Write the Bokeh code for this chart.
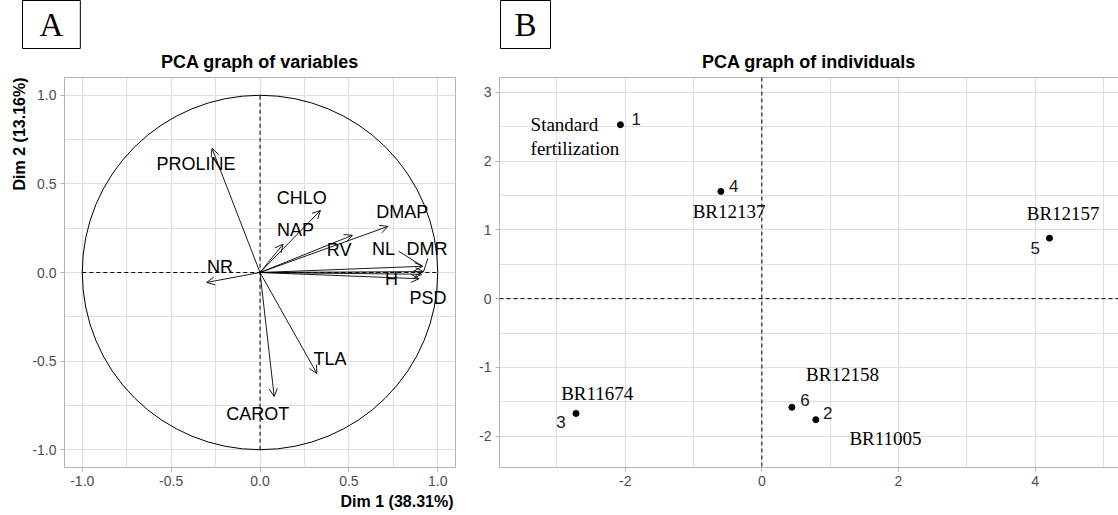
from bokeh.plotting import figure
from bokeh.models import (Range1d, FixedTicker, Span, Arrow, OpenHead, ColumnDataSource,
                          Title, LinearAxis, PrintfTickFormatter)
from bokeh.layouts import row
from bokeh.embed import file_html
from bokeh.resources import INLINE
from bokeh.core.properties import value

# ---------------- Panel A: PCA graph of variables ----------------
var_names = ["PROLINE", "CHLO", "NAP", "DMAP", "RV", "NL", "DMR", "H", "PSD", "NR", "TLA", "CAROT"]
var_dim1 = [-0.27, 0.34, 0.13, 0.72, 0.52, 0.915, 0.92, 0.91, 0.895, -0.30, 0.32, 0.08]
var_dim2 = [0.70, 0.35, 0.16, 0.26, 0.21, 0.035, 0.005, -0.01, -0.035, -0.056, -0.57, -0.70]
# repelled label positions (text centres)
var_label_dim1 = [-0.36, 0.235, 0.20, 0.80, 0.445, 0.695, 0.94, 0.74, 0.945, -0.225, 0.394, -0.013]
var_label_dim2 = [0.61, 0.42, 0.24, 0.34, 0.128, 0.13, 0.13, -0.034, -0.146, 0.03, -0.486, -0.80]
# label connector segments (ggrepel)
seg_vars = ["NL", "DMR"]
seg_from_dim1 = [0.78, 0.945]
seg_from_dim2 = [0.12, 0.08]

a_ticks = [-1.0, -0.5, 0.0, 0.5, 1.0]
a_minor = [-0.75, -0.25, 0.25, 0.75]

# ---------------- Panel B: PCA graph of individuals ----------------
ind_ids = ["1", "2", "3", "4", "5", "6"]
ind_dim1 = [-2.07, 0.79, -2.72, -0.60, 4.21, 0.44]
ind_dim2 = [2.53, -1.76, -1.67, 1.56, 0.88, -1.58]
ind_label_dim1 = [-1.84, 0.965, -2.94, -0.41, 4.0, 0.63]
ind_label_dim2 = [2.62, -1.66, -1.80, 1.645, 0.73, -1.48]
treat_names = ["Standard\nfertilization", "BR11005", "BR11674", "BR12137", "BR12157", "BR12158"]
treat_dim1 = [-3.385, 1.81, -2.41, -0.48, 4.41, 1.18]
treat_dim2 = [2.36, -2.03, -1.38, 1.27, 1.24, -1.106]
treat_align = ["left", "center", "center", "center", "center", "center"]

b_xticks = [-2, 0, 2, 4]
b_xminor = [-3, -1, 1, 3, 5]
b_yticks = [-2, -1, 0, 1, 2, 3]
b_yminor = [-1.5, -0.5, 0.5, 1.5, 2.5]

SANS = "Liberation Sans"
SERIF = "Liberation Serif"
GRID = "#dedede"
BORDER = "#b3b3b3"
TICKTXT = "#4d4d4d"


def style(p, xt, xm, yt, ym, fmt):
    p.background_fill_color = "white"
    p.border_fill_color = "white"
    p.xaxis.ticker = FixedTicker(ticks=xt, minor_ticks=xm)
    p.yaxis.ticker = FixedTicker(ticks=yt, minor_ticks=ym)
    p.xgrid.ticker = FixedTicker(ticks=xt, minor_ticks=xm)
    p.ygrid.ticker = FixedTicker(ticks=yt, minor_ticks=ym)
    for g in (p.xgrid, p.ygrid):
        g.grid_line_color = GRID
        g.grid_line_width = 1.2
        g.minor_grid_line_color = GRID
        g.minor_grid_line_width = 1.0
    for ax in (p.xaxis, p.yaxis):
        ax.formatter = PrintfTickFormatter(format=fmt)
        ax.axis_line_color = None
        ax.major_tick_line_color = BORDER
        ax.major_tick_out = 4
        ax.major_tick_in = 0
        ax.minor_tick_out = 0
        ax.minor_tick_in = 0
        ax.major_label_standoff = 4
        ax.major_label_text_font = SANS
        ax.major_label_text_font_size = "14px"
        ax.major_label_text_color = TICKTXT


def main_title(text):
    return Title(text=text, align="center", text_font=SANS, text_font_size="18px",
                 text_font_style="bold", text_color="black", standoff=12)


def box_title(text, offset, pad_h):
    return Title(text=text, align="left", offset=offset, text_font=SERIF,
                 text_font_size="33px", text_font_style="normal", text_color="black",
                 border_line_color="black", border_line_width=1, padding=(pad_h, 6),
                 standoff=-10)


def axis_title(text, offset, standoff):
    return Title(text=text, align="right", offset=offset, text_font=SANS,
                 text_font_size="16px", text_font_style="bold", text_color="black",
                 standoff=standoff)


# ---------- figure A ----------
pA = figure(width=460, height=515, x_range=Range1d(-1.10, 1.10), y_range=Range1d(-1.10, 1.10),
            output_backend="svg", toolbar_location=None, title_location=None,
            min_border_left=64, min_border_right=5, min_border_top=77, min_border_bottom=48)
style(pA, a_ticks, a_minor, a_ticks, a_minor, "%.1f")
pA.outline_line_color = BORDER
pA.outline_line_width = 1
pA.add_layout(main_title("PCA graph of variables"), "above")
pA.add_layout(box_title("A", -42, 17), "above")
pA.add_layout(axis_title("Dim 1 (38.31%)", 2, 5), "below")
pA.add_layout(axis_title("Dim 2 (13.16%)", 0, 4), "left")

pA.ellipse(x=0, y=0, width=2, height=2, fill_color=None, line_color="black", line_width=1)
pA.segment(x0=[-1, 0], y0=[0, -1], x1=[1, 0], y1=[0, 1], line_dash="4 3",
           line_color="black", line_width=1)

srcA = ColumnDataSource(dict(x0=[0.0] * len(var_names), y0=[0.0] * len(var_names),
                             x1=var_dim1, y1=var_dim2))
pA.add_layout(Arrow(end=OpenHead(size=8, line_width=0.9, line_color="black"),
                    x_start="x0", y_start="y0", x_end="x1", y_end="y1", source=srcA,
                    line_width=0.9, line_color="black"))
seg_to_dim1 = [var_dim1[var_names.index(v)] for v in seg_vars]
seg_to_dim2 = [var_dim2[var_names.index(v)] for v in seg_vars]
pA.segment(x0=seg_from_dim1, y0=seg_from_dim2, x1=seg_to_dim1, y1=seg_to_dim2,
           line_color="black", line_width=0.9)
pA.text(x=var_label_dim1, y=var_label_dim2, text=var_names, text_font=value(SANS),
        text_font_size="18px", text_align="center", text_baseline="middle", text_color="black")

# ---------- figure B ----------
pB = figure(width=658, height=515, x_range=Range1d(-3.84, 5.22), y_range=Range1d(-2.456, 3.217),
            output_backend="svg", toolbar_location=None, title_location=None,
            min_border_left=39, min_border_right=0, min_border_top=77, min_border_bottom=48)
style(pB, b_xticks, b_xminor, b_yticks, b_yminor, "%d")
pB.outline_line_color = None
pB.xaxis.axis_line_color = BORDER
pB.yaxis.axis_line_color = BORDER
top_ax = LinearAxis(ticker=FixedTicker(ticks=[]), major_label_text_font_size="0px",
                    axis_line_color=BORDER, major_tick_out=0, minor_tick_out=0,
                    major_label_standoff=0)
pB.add_layout(top_ax, "above")
pB.add_layout(main_title("PCA graph of individuals"), "above")
pB.add_layout(box_title("B", 1, 14), "above")

pB.add_layout(Span(location=0, dimension="width", line_dash="4 3", line_color="black", line_width=1))
pB.add_layout(Span(location=0, dimension="height", line_dash="4 3", line_color="black", line_width=1))

pB.scatter(x=ind_dim1, y=ind_dim2, size=6, color="black")
pB.text(x=ind_label_dim1, y=ind_label_dim2, text=ind_ids, text_font=value(SANS),
        text_font_size="17px", text_align="center", text_baseline="middle", text_color="#1a1a1a")
srcT = ColumnDataSource(dict(x=treat_dim1, y=treat_dim2, t=treat_names, a=treat_align))
pB.text(x="x", y="y", text="t", text_align="a", source=srcT, text_font=value(SERIF),
        text_font_size="19px", text_baseline="middle", text_color="black", text_line_height=1.15)

layout = row(pA, pB, spacing=0)
open("out.html", "w").write(file_html(layout, INLINE))
